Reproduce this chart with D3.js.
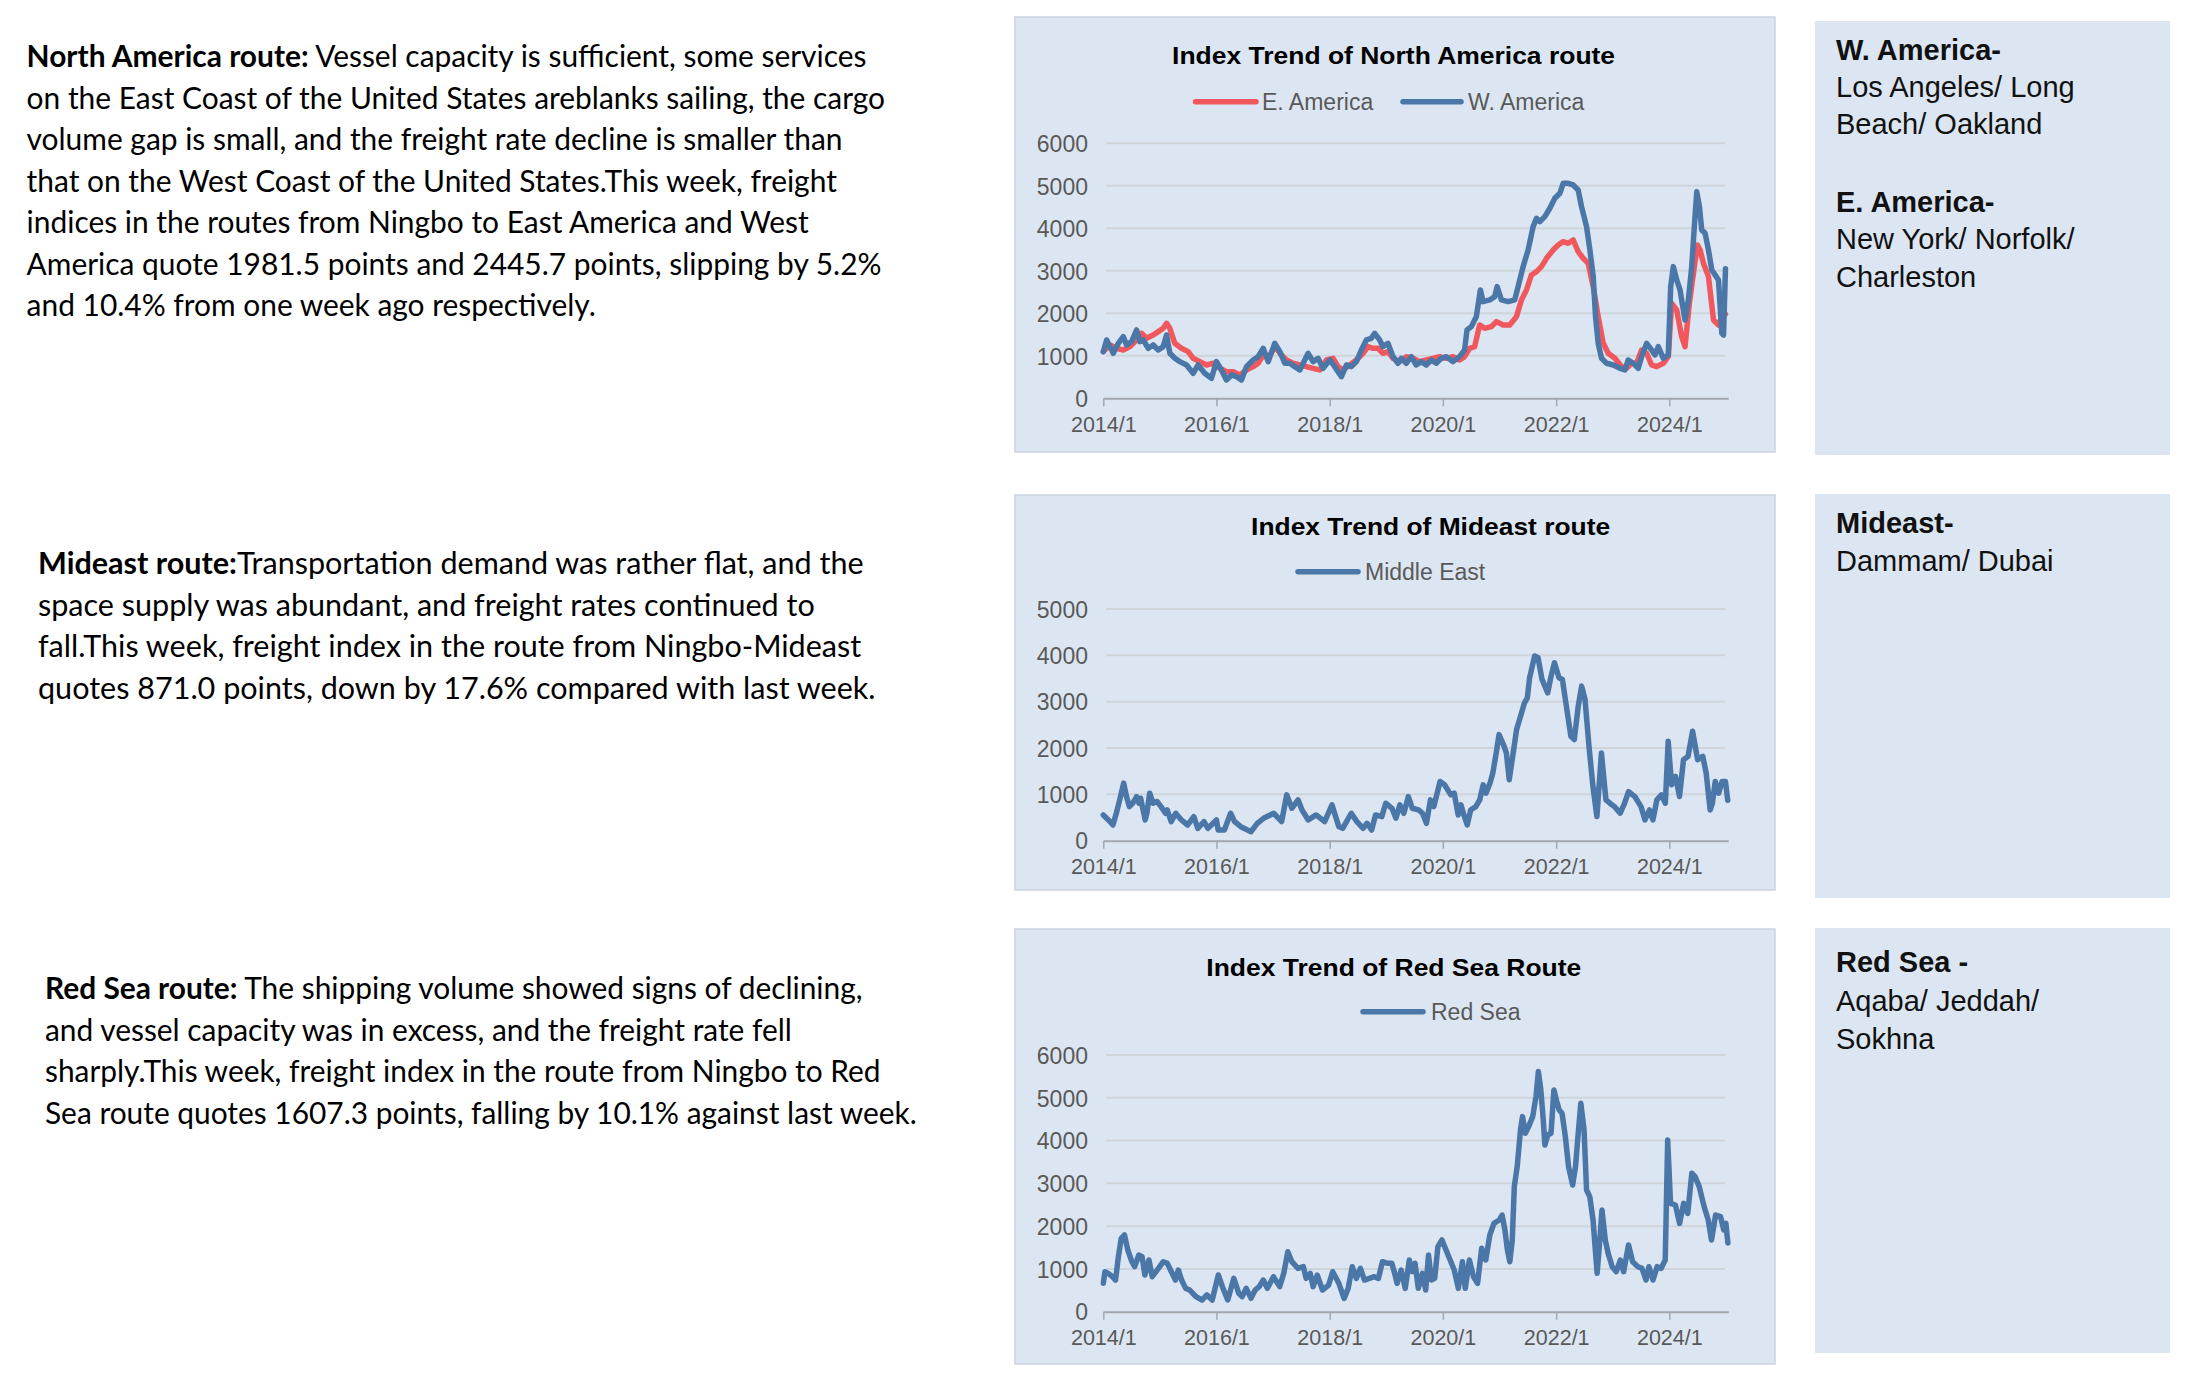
<!DOCTYPE html>
<html><head><meta charset="utf-8">
<script src="https://cdn.jsdelivr.net/npm/d3@7"></script>
<style>html,body{margin:0;padding:0;background:#fff;}svg{display:block;}</style>
</head><body>
<svg id="c" width="2199" height="1383"></svg>
<script>
// ---------------- DATA ----------------
const xTickLabels = ["2014/1","2016/1","2018/1","2020/1","2022/1","2024/1"];
const naSeries = ["E. America","W. America"];
const meSeries = ["Middle East"];
const rsSeries = ["Red Sea"];
const chartTitles = ["Index Trend of North America route","Index Trend of Mideast route","Index Trend of Red Sea Route"];
const naYTicks = [0,1000,2000,3000,4000,5000,6000];
const meYTicks = [0,1000,2000,3000,4000,5000];
const rsYTicks = [0,1000,2000,3000,4000,5000,6000];

// dates as decimal years
const eaYears = [2014.000,2014.118,2014.235,2014.353,2014.471,2014.588,2014.676,2014.765,2014.882,2014.971,
2015.059,2015.118,2015.176,2015.265,2015.382,2015.500,2015.588,2015.706,2015.824,2015.941,
2016.059,2016.176,2016.294,2016.412,2016.529,2016.647,2016.735,2016.824,2016.912,2017.029,
2017.147,2017.235,2017.353,2017.471,2017.588,2017.706,2017.824,2017.941,2018.059,2018.147,
2018.235,2018.353,2018.471,2018.588,2018.676,2018.765,2018.853,2018.941,2019.029,2019.118,
2019.235,2019.353,2019.471,2019.588,2019.706,2019.824,2019.941,
2020.059,2020.177,2020.295,2020.383,2020.472,2020.560,2020.649,2020.737,2020.855,2020.944,
2021.062,2021.180,2021.298,2021.386,2021.475,2021.563,2021.652,2021.740,2021.829,2021.947,
2022.035,2022.124,2022.212,2022.301,2022.389,2022.478,2022.566,2022.655,2022.743,2022.832,
2022.920,2023.038,2023.156,2023.245,2023.333,2023.422,2023.510,2023.599,2023.687,2023.776,2023.894,2023.982,
2024.041,2024.130,2024.218,2024.277,2024.354,2024.425,2024.496,2024.543,2024.602,2024.690,2024.779,2024.867,2024.926,2024.990];
const eaValues = [1098,1255,1176,1137,1216,1373,1529,1412,1490,1569,
1647,1765,1647,1294,1176,1098,941,863,784,824,
706,627,627,549,667,745,824,1020,941,1216,
1020,902,824,784,745,706,667,902,941,745,
667,784,902,1059,1216,1176,1176,1059,1098,941,
863,980,941,863,902,941,980,
941,980,902,980,1176,1216,1725,1647,1686,1804,
1725,1725,1922,2314,2549,2902,2980,3098,3294,3490,
3608,3686,3647,3725,3451,3294,3176,2627,1922,1294,
1059,941,745,706,824,824,1137,1059,784,745,824,980,
2235,2078,1451,1216,2235,2941,3608,3490,3176,2863,1843,1725,1922,1982];

const waYears = [2014.000,2014.059,2014.118,2014.176,2014.265,2014.353,2014.412,2014.500,2014.588,2014.647,
2014.706,2014.794,2014.882,2014.971,2015.059,2015.118,2015.176,2015.265,2015.353,2015.471,
2015.588,2015.676,2015.794,2015.912,2016.000,2016.088,2016.176,2016.265,2016.353,2016.441,
2016.529,2016.647,2016.735,2016.824,2016.912,2017.029,2017.118,2017.206,2017.294,2017.382,
2017.471,2017.559,2017.618,2017.706,2017.794,2017.882,2018.000,2018.088,2018.206,2018.294,
2018.382,2018.471,2018.559,2018.647,2018.735,2018.794,2018.882,2018.941,2019.029,2019.118,
2019.206,2019.265,2019.353,2019.441,2019.529,2019.618,2019.706,2019.794,2019.882,2019.971,
2020.060,2020.177,2020.295,2020.383,2020.425,2020.501,2020.590,2020.661,2020.708,2020.826,
2020.914,2020.956,2021.032,2021.150,2021.268,2021.327,2021.416,2021.504,2021.593,2021.652,
2021.711,2021.799,2021.888,2021.976,2022.065,2022.124,2022.212,2022.301,2022.389,2022.448,
2022.537,2022.596,2022.655,2022.696,2022.743,2022.802,2022.891,2023.009,2023.127,2023.215,
2023.274,2023.363,2023.451,2023.510,2023.599,2023.687,2023.746,2023.805,2023.894,2023.982,
2024.024,2024.071,2024.130,2024.189,2024.277,2024.336,2024.395,2024.437,2024.484,2024.531,
2024.572,2024.631,2024.690,2024.749,2024.808,2024.867,2024.926,2024.956,2024.990];
const waValues = [1098,1373,1216,1059,1294,1451,1255,1333,1608,1333,
1373,1176,1255,1137,1216,1490,1059,941,863,784,
588,784,588,471,863,667,431,549,510,431,
745,902,980,1176,863,1294,1098,824,824,745,
667,902,1059,863,941,706,902,745,510,784,
745,863,1137,1373,1412,1529,1373,1216,1294,980,
824,941,824,980,784,863,784,902,824,941,
980,863,980,1137,1608,1686,1922,2549,2275,2314,
2392,2627,2314,2275,2314,2627,3098,3490,4039,4235,
4157,4275,4471,4706,4824,5059,5059,5020,4902,4510,
4039,3490,2863,1922,1294,941,824,784,706,667,
902,824,706,980,1294,1137,1020,1216,941,1020,
2627,3098,2784,2549,1843,2314,3098,3961,4863,4510,
3961,3882,3490,3020,2902,2784,1529,1490,3050];

const meYears = [2014.00,2014.09,2014.17,2014.23,2014.29,2014.36,2014.41,2014.46,2014.52,2014.59,
2014.63,2014.66,2014.74,2014.77,2014.82,2014.88,2014.95,2015.02,2015.10,2015.13,
2015.20,2015.28,2015.38,2015.49,2015.60,2015.67,2015.78,2015.85,2016.00,2016.03,
2016.14,2016.25,2016.32,2016.43,2016.61,2016.72,2016.83,2017.01,2017.15,2017.24,
2017.33,2017.44,2017.51,2017.62,2017.76,2017.91,2018.04,2018.16,2018.23,2018.38,
2018.48,2018.59,2018.66,2018.74,2018.81,2018.92,2018.99,2019.10,2019.17,2019.24,
2019.31,2019.39,2019.46,2019.57,2019.64,2019.71,2019.78,2019.84,2019.95,2020.03,
2020.14,2020.20,2020.27,2020.32,2020.37,2020.43,2020.49,2020.58,2020.65,2020.71,
2020.76,2020.83,2020.88,2020.94,2020.99,2021.08,2021.12,2021.17,2021.24,2021.30,
2021.37,2021.44,2021.49,2021.53,2021.62,2021.68,2021.75,2021.85,2021.91,2021.97,
2022.05,2022.11,2022.18,2022.26,2022.32,2022.39,2022.45,2022.51,2022.58,2022.65,
2022.72,2022.80,2022.88,2022.95,2023.03,2023.13,2023.21,2023.28,2023.39,2023.50,
2023.57,2023.65,2023.71,2023.78,2023.86,2023.93,2023.98,2024.04,2024.11,2024.18,
2024.25,2024.33,2024.41,2024.50,2024.59,2024.65,2024.72,2024.76,2024.81,2024.87,
2024.93,2024.99,2025.03];
const meValues = [556,448,339,592,881,1242,953,736,809,953,
809,917,448,592,1025,809,845,736,592,664,
412,592,448,339,520,267,412,267,448,231,
231,592,412,303,195,375,484,592,412,989,
700,881,664,448,556,412,773,303,267,592,
412,267,375,231,556,520,809,700,484,773,
592,953,700,664,592,375,881,736,1278,1206,
989,1025,556,773,556,339,664,736,881,1206,
1025,1242,1458,1892,2289,2036,1892,1314,1892,2397,
2686,2975,3083,3516,3986,3949,3480,3191,3552,3841,
3516,3480,2903,2253,2181,2903,3336,3047,2036,1170,
520,1892,881,809,736,592,809,1061,953,736,
448,664,448,881,989,809,2144,1206,1386,953,
1747,1819,2361,1747,1819,1458,664,809,1278,1025,
1278,1278,871];

const rsYears = [2014.000,2014.029,2014.087,2014.159,2014.216,2014.267,2014.317,2014.375,2014.433,2014.505,
2014.555,2014.627,2014.685,2014.735,2014.807,2014.865,2014.952,2015.060,2015.132,2015.204,
2015.276,2015.327,2015.384,2015.456,2015.528,2015.637,2015.745,2015.831,2015.925,2016.033,
2016.105,2016.199,2016.307,2016.394,2016.451,2016.523,2016.610,2016.682,2016.754,2016.826,
2016.898,2017.006,2017.115,2017.187,2017.259,2017.331,2017.439,2017.533,2017.583,2017.655,
2017.706,2017.778,2017.872,2017.980,2018.052,2018.161,2018.254,2018.326,2018.398,2018.470,
2018.542,2018.614,2018.701,2018.787,2018.860,2018.932,2019.025,2019.097,2019.148,2019.191,
2019.263,2019.335,2019.407,2019.458,2019.508,2019.566,2019.638,2019.696,2019.746,2019.797,
2019.855,2019.912,2019.984,2020.056,2020.128,2020.200,2020.273,2020.345,2020.395,2020.467,
2020.539,2020.611,2020.684,2020.756,2020.828,2020.900,2020.994,2021.044,2021.094,2021.138,
2021.181,2021.224,2021.260,2021.311,2021.369,2021.405,2021.455,2021.513,2021.585,2021.643,
2021.686,2021.729,2021.772,2021.801,2021.851,2021.909,2021.960,2022.003,2022.053,2022.104,
2022.162,2022.219,2022.291,2022.342,2022.392,2022.436,2022.493,2022.537,2022.594,2022.652,
2022.724,2022.767,2022.810,2022.868,2022.919,2022.991,2023.063,2023.135,2023.193,2023.279,
2023.351,2023.445,2023.517,2023.589,2023.640,2023.712,2023.784,2023.856,2023.928,2023.971,
2024.022,2024.108,2024.181,2024.253,2024.325,2024.397,2024.455,2024.527,2024.614,2024.686,
2024.744,2024.816,2024.903,2024.961,2024.997,2025.033];
const rsValues = [663,935,896,818,740,1286,1715,1793,1442,1169,
1052,1325,1286,857,1208,818,974,1169,1130,935,
740,974,740,546,507,351,273,390,273,857,
585,273,779,429,351,546,312,507,585,740,
546,818,585,896,1403,1169,1013,1052,779,896,
585,857,507,624,935,663,312,546,1052,779,
1013,740,779,818,779,1169,1130,1130,896,663,
974,546,1208,935,1130,546,896,507,1325,740,
779,1520,1676,1442,1208,974,546,1169,546,1208,
818,663,1481,1208,1793,2065,2143,2260,1910,1442,
1169,1676,2923,3390,4248,4560,4170,4326,4560,5027,
5612,5183,4482,3897,4131,4170,5183,4949,4716,4638,
4092,3390,2962,3390,4209,4871,4248,2845,2689,2143,
896,1598,2377,1676,1364,1052,935,1208,935,1559,
1169,1052,1013,740,1052,740,1052,1013,1208,4014,
2533,2494,2065,2533,2299,3235,3157,2923,2455,2143,
1676,2260,2221,1910,2065,1607];

// ---------------- TEXT ----------------
const naBold = "North America route:";
const naLines = [" Vessel capacity is sufficient, some services",
"on the East Coast of the United States areblanks sailing, the cargo",
"volume gap is small, and the freight rate decline is smaller than",
"that on the West Coast of the United States.This week, freight",
"indices in the routes from Ningbo to East America and West",
"America quote 1981.5 points and 2445.7 points, slipping by 5.2%",
"and 10.4% from one week ago respectively."];
const meBold = "Mideast route:";
const meLines = ["Transportation demand was rather flat, and the",
"space supply was abundant, and freight rates continued to",
"fall.This week, freight index in the route from Ningbo-Mideast",
"quotes 871.0 points, down by 17.6% compared with last week."];
const rsBold = "Red Sea route:";
const rsLines = [" The shipping volume showed signs of declining,",
"and vessel capacity was in excess, and the freight rate fell",
"sharply.This week, freight index in the route from Ningbo to Red",
"Sea route quotes 1607.3 points, falling by 10.1% against last week."];
const portTexts = [
  [["W. America-",true],["Los Angeles/ Long",false],["Beach/ Oakland",false],["",false],["E. America-",true],["New York/ Norfolk/",false],["Charleston",false]],
  [["Mideast-",true],["Dammam/ Dubai",false]],
  [["Red Sea -",true],["Aqaba/ Jeddah/",false],["Sokhna",false]]
];

// ---------------- STYLE / LAYOUT ----------------
const RED = "#F0585E", BLUE = "#4A76A8", PANEL = "#DCE6F2";
const svg = d3.select("#c");

function decToDate(y){
  const yr = Math.floor(y);
  const a = new Date(yr,0,1), b = new Date(yr+1,0,1);
  return new Date(+a + (y-yr)*(b-a));
}
const zip = (ys, vs) => ys.map((y,i)=>({date:decToDate(y), value:vs[i]}));

const charts = [
  {panel:[1015,17,760,435], yB:398.3, yT:143.3, yTicks:naYTicks, title:chartTitles[0], tcx:1393.6, ty:64, tlen:443,
   legY:101.7, legend:[[1195.5,1256,1262],[1403,1461,1468]], names:naSeries,
   series:[{d:zip(eaYears,eaValues),c:RED},{d:zip(waYears,waValues),c:BLUE}]},
  {panel:[1015,495,760,395], yB:840.7, yT:609, yTicks:meYTicks, title:chartTitles[1], tcx:1430.6, ty:535, tlen:359,
   legY:571.7, legend:[[1298,1358,1365]], names:meSeries,
   series:[{d:zip(meYears,meValues),c:BLUE}]},
  {panel:[1015,929,760,435], yB:1311.7, yT:1055, yTicks:rsYTicks, title:chartTitles[2], tcx:1393.8, ty:975.7, tlen:375,
   legY:1011.7, legend:[[1363,1423,1431]], names:rsSeries,
   series:[{d:zip(rsYears,rsValues),c:BLUE}]}
];

const parseTick = d3.timeParse("%Y/%m");
const tickDates = xTickLabels.map(parseTick);
const x = d3.scaleTime().domain([new Date(2014,0,1), decToDate(2025.04)]).range([1103.3,1728.3]);

charts.forEach(ch=>{
  const [px,py,pw,ph] = ch.panel;
  const g = svg.append("g");
  g.append("rect").attr("x",px).attr("y",py).attr("width",pw).attr("height",ph)
    .attr("fill",PANEL).attr("stroke","#cbd4df").attr("stroke-width",1.5);
  const yMax = d3.max(ch.yTicks);
  const y = d3.scaleLinear().domain([0,yMax]).range([ch.yB,ch.yT]);
  // gridlines
  g.selectAll(".grid").data(ch.yTicks.filter(t=>t>0)).join("line")
    .attr("x1",1106).attr("x2",1725).attr("y1",d=>y(d)).attr("y2",d=>y(d))
    .attr("stroke","#cfd4da").attr("stroke-width",2);
  // y labels
  const ya = g.append("g").attr("transform","translate(1088,0)")
    .call(d3.axisLeft(y).tickValues(ch.yTicks).tickSize(0).tickPadding(0).tickFormat(d3.format("d")));
  ya.select(".domain").remove();
  ya.selectAll("text").attr("font-family","'Liberation Sans',Arial,sans-serif").attr("font-size",23).attr("fill","#595959").attr("dy","0.36em");
  // x axis
  const xa = g.append("g").attr("transform",`translate(0,${ch.yB})`)
    .call(d3.axisBottom(x).tickValues(tickDates).tickSize(8).tickSizeOuter(0).tickFormat(d3.timeFormat("%Y/%-m")));
  xa.select(".domain").attr("stroke","#a3a7ad").attr("stroke-width",2);
  xa.selectAll(".tick line").attr("stroke","#a3a7ad").attr("stroke-width",1.5);
  xa.selectAll("text").attr("font-family","'Liberation Sans',Arial,sans-serif").attr("font-size",21.5).attr("fill","#595959").attr("y",18);
  // lines
  const line = d3.line().x(d=>x(d.date)).y(d=>y(d.value));
  ch.series.forEach(s=>{
    g.append("path").datum(s.d).attr("d",line).attr("fill","none").attr("stroke",s.c)
      .attr("stroke-width",5.5).attr("stroke-linejoin","round").attr("stroke-linecap","round");
  });
  // title
  g.append("text").attr("x",ch.tcx).attr("y",ch.ty).attr("text-anchor","middle")
    .attr("font-family","'Liberation Sans',Arial,sans-serif").attr("font-weight","bold").attr("font-size",24)
    .attr("textLength",ch.tlen).attr("lengthAdjust","spacingAndGlyphs").attr("fill","#000").text(ch.title);
  // legend
  ch.legend.forEach((L,i)=>{
    g.append("line").attr("x1",L[0]).attr("x2",L[1]).attr("y1",ch.legY).attr("y2",ch.legY)
      .attr("stroke",ch.series[i].c).attr("stroke-width",5.5).attr("stroke-linecap","round");
    g.append("text").attr("x",L[2]).attr("y",ch.legY).attr("dy","0.36em")
      .attr("font-family","'Liberation Sans',Arial,sans-serif").attr("font-size",23).attr("fill","#595959").text(ch.names[i]);
  });
});

// left text blocks
const blocks = [
  {bold:naBold, lines:naLines, x:26.6, y0:67, step:41.5, refIdx:1, refW:859},
  {bold:meBold, lines:meLines, x:38, y0:574, step:41.7, refIdx:0, refW:826},
  {bold:rsBold, lines:rsLines, x:45, y0:999, step:41.6, refIdx:3, refW:872}
];
const LFONT = "Lato,'Open Sans',sans-serif";
blocks.forEach(b=>{
  const tg = svg.append("g").attr("font-family",LFONT).attr("fill","#000");
  const texts = b.lines.map((ln,i)=>{
    const t = tg.append("text").attr("x",b.x).attr("y",b.y0+i*b.step).attr("font-size",100);
    if(i===0) t.append("tspan").attr("font-weight","bold").text(b.bold);
    t.append("tspan").text(ln);
    return t;
  });
  const w = texts[b.refIdx].node().getComputedTextLength();
  const fs = 100*b.refW/w;
  texts.forEach(t=>t.attr("font-size",fs));
});

// right panels
const rp = [[1815,21,355,434,[60,97.3,134.3,171.6,211.7,249.3,287.3]],[1815,494,355,404,[533,571]],[1815,928,355,425,[972,1010.5,1049]]];
rp.forEach((p,k)=>{
  svg.append("rect").attr("x",p[0]).attr("y",p[1]).attr("width",p[2]).attr("height",p[3]).attr("fill",PANEL);
  portTexts[k].forEach((ln,i)=>{
    if(!ln[0]) return;
    svg.append("text").attr("x",1836).attr("y",p[4][i])
      .attr("font-family","'Liberation Sans',Arial,sans-serif").attr("font-size",29)
      .attr("font-weight",ln[1]?"bold":"normal").attr("fill","#111").text(ln[0]);
  });
});
</script>
</body></html>
